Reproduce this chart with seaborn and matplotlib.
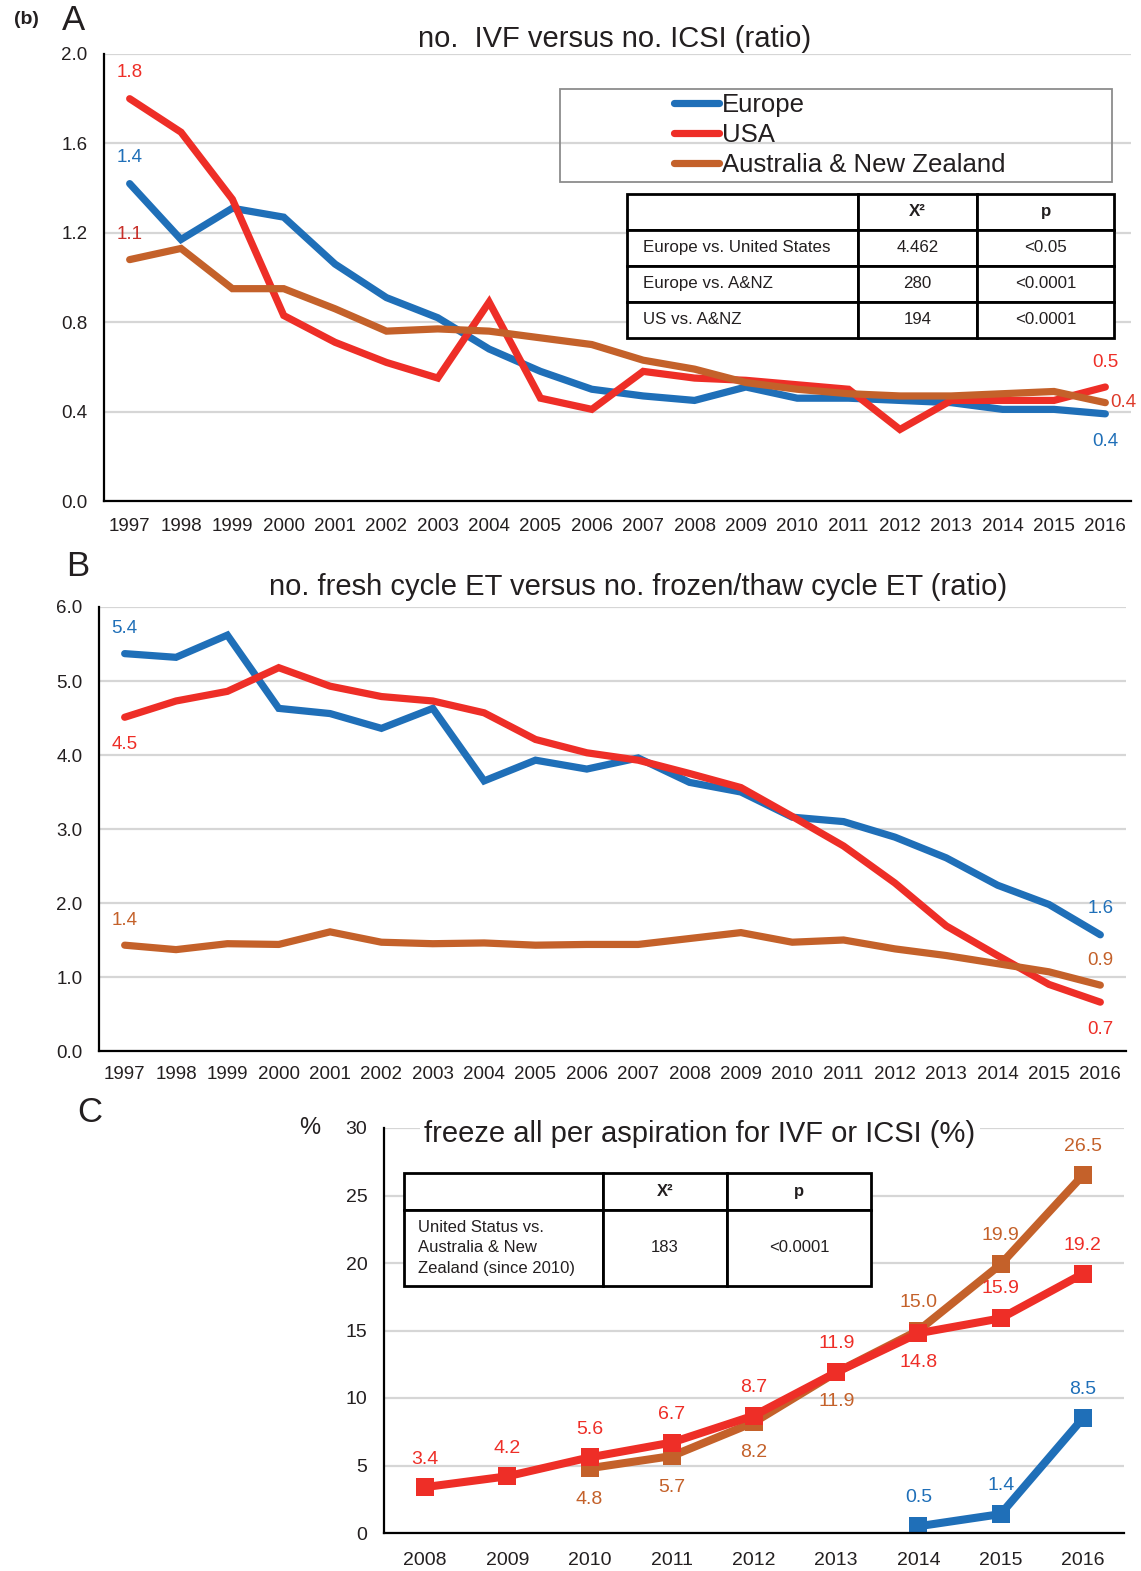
import numpy as np
import pandas as pd
import matplotlib
matplotlib.use("Agg")
import matplotlib.pyplot as plt
from matplotlib.patches import Rectangle
import seaborn as sns

# ── Data ────────────────────────────────────────────────────────────────
years_ab = list(range(1997, 2017))

# A: no. IVF / no. ICSI
europe_icsi = [1.42, 1.17, 1.31, 1.27, 1.06, 0.91, 0.82, 0.68, 0.58, 0.50,
               0.47, 0.45, 0.51, 0.46, 0.46, 0.45, 0.44, 0.41, 0.41, 0.39]
usa_icsi = [1.80, 1.65, 1.35, 0.83, 0.71, 0.62, 0.55, 0.89, 0.46, 0.41,
            0.58, 0.55, 0.54, 0.52, 0.50, 0.32, 0.45, 0.45, 0.45, 0.51]
anz_icsi = [1.08, 1.13, 0.95, 0.95, 0.86, 0.76, 0.77, 0.76, 0.73, 0.70,
            0.63, 0.59, 0.53, 0.50, 0.48, 0.47, 0.47, 0.48, 0.49, 0.44]

# B: fresh cycle ET / frozen-thaw cycle ET
europe_et = [5.37, 5.32, 5.62, 4.63, 4.56, 4.36, 4.63, 3.65, 3.93, 3.81,
             3.96, 3.63, 3.50, 3.16, 3.10, 2.89, 2.61, 2.24, 1.98, 1.57]
usa_et = [4.51, 4.73, 4.86, 5.18, 4.93, 4.79, 4.73, 4.57, 4.21, 4.03,
          3.93, 3.75, 3.56, 3.17, 2.77, 2.27, 1.69, 1.29, 0.90, 0.66]
anz_et = [1.43, 1.37, 1.45, 1.44, 1.61, 1.47, 1.45, 1.46, 1.43, 1.44,
          1.44, 1.52, 1.60, 1.47, 1.50, 1.38, 1.29, 1.18, 1.07, 0.89]

# C: freeze all per aspiration (%)
years_usa_c = [2008, 2009, 2010, 2011, 2012, 2013, 2014, 2015, 2016]
usa_freeze = [3.4, 4.2, 5.6, 6.7, 8.7, 11.9, 14.8, 15.9, 19.2]
years_anz_c = [2010, 2011, 2012, 2013, 2014, 2015, 2016]
anz_freeze = [4.8, 5.7, 8.2, 11.9, 15.0, 19.9, 26.5]
years_eur_c = [2014, 2015, 2016]
europe_freeze = [0.5, 1.4, 8.5]

regions = ["Europe", "USA", "Australia & New Zealand"]

table_a_rows = ["Europe vs. United States", "Europe vs. A&NZ", "US vs. A&NZ"]
table_a_chi = ["4.462", "280", "194"]
table_a_p = ["<0.05", "<0.0001", "<0.0001"]

table_c_row = "United Status vs.\nAustralia & New\nZealand (since 2010)"
table_c_chi = "183"
table_c_p = "<0.0001"

# ── Style ───────────────────────────────────────────────────────────────
BLUE = "#1f6fb8"
RED = "#ee2e27"
BROWN = "#c4612a"
palette = {"Europe": BLUE, "USA": RED, "Australia & New Zealand": BROWN}
GRID = "#d6d6d6"

sns.set_style("white")
plt.rcParams["font.family"] = ["Liberation Sans", "DejaVu Sans"]
plt.rcParams["text.color"] = "#231f20"
plt.rcParams["xtick.color"] = "#231f20"
plt.rcParams["ytick.color"] = "#231f20"

W, H = 1141, 1571
fig = plt.figure(figsize=(W / 100, H / 100), dpi=100)


def px_axes(l, t, r, b):
    return fig.add_axes([l / W, 1 - b / H, (r - l) / W, (b - t) / H])


def style_axes(ax, xs, ymax, ystep, yfmt, fs, xpad=12):
    ax.set_xlim(xs[0] - 0.5, xs[-1] + 0.5)
    ax.set_ylim(0, ymax)
    ax.set_xticks(xs)
    ax.set_xticklabels([str(x) for x in xs], fontsize=fs)
    ax.set_xticks(np.arange(xs[0] - 0.5, xs[-1] + 1, 1), minor=True)
    ax.tick_params(axis="x", which="major", length=0, pad=xpad)
    ax.tick_params(axis="x", which="minor", length=6, width=1.3, color="black")
    yt = np.arange(0, ymax + ystep / 2, ystep)
    ax.set_yticks(yt)
    ax.set_yticklabels([yfmt.format(v) for v in yt], fontsize=fs)
    ax.tick_params(axis="y", length=5, width=1.3, color="black", pad=7)
    for s in ["top", "right"]:
        ax.spines[s].set_visible(False)
    for s in ["left", "bottom"]:
        ax.spines[s].set_color("black")
        ax.spines[s].set_linewidth(1.6)
    ax.yaxis.grid(True, color=GRID, lw=1.6)
    ax.set_axisbelow(True)
    ax.set_xlabel("")
    ax.set_ylabel("")


def long_df(years, series):
    frames = []
    for name, vals in series.items():
        frames.append(pd.DataFrame({"year": years, "value": vals, "region": name}))
    return pd.concat(frames, ignore_index=True)


def label(ax, x, y, txt, color, dx, dy, fs=13.5):
    ax.annotate(txt, (x, y), xytext=(dx, dy), textcoords="offset pixels",
                ha="center", va="center", color=color, fontsize=fs,
                annotation_clip=False)


def draw_table(ax, bbox, rows, col_w, row_h, fs):
    tb = ax.table(cellText=rows, bbox=bbox, cellLoc="center", zorder=5)
    tb.auto_set_font_size(False)
    tb.set_fontsize(fs)
    for (r, c), cell in tb.get_celld().items():
        cell.set_width(col_w[c])
        cell.set_height(row_h[r])
        cell.set_linewidth(2.0)
        cell.set_edgecolor("black")
        cell.set_facecolor("white")
        cell.get_text().set_linespacing(1.45)
        if r == 0:
            cell.get_text().set_fontweight("bold")
        if c == 0 and r > 0:
            cell._loc = "left"
            cell.PAD = 0.07
            cell.get_text().set_horizontalalignment("left")
    return tb


# ── Panel A ─────────────────────────────────────────────────────────────
axA = px_axes(104, 54, 1131, 501)
dfA = long_df(years_ab, {"Europe": europe_icsi, "USA": usa_icsi,
                         "Australia & New Zealand": anz_icsi})
sns.lineplot(data=dfA, x="year", y="value", hue="region", hue_order=regions,
             palette=palette, lw=5.2, legend=False, ax=axA,
             solid_capstyle="round", solid_joinstyle="miter")
style_axes(axA, years_ab, 2.0, 0.4, "{:.1f}", 13.5)

axA.text(0.497, 1.033, "no.  IVF versus no. ICSI (ratio)", transform=axA.transAxes,
         ha="center", va="center", fontsize=21)

# legend box + entries
axA.add_patch(Rectangle((0.444, 0.714), 0.5375, 0.208, transform=axA.transAxes,
                        fill=False, ec="#8c8c8c", lw=1.3, zorder=4))
handles = [plt.Line2D([], [], color=palette[r], lw=5.2, solid_capstyle="round")
           for r in regions]
axA.legend(handles, regions, loc="upper left", bbox_to_anchor=(0.555, 0.912),
           frameon=False, fontsize=18.5, handlelength=1.75, handletextpad=0.12,
           labelspacing=0.22, borderpad=0, borderaxespad=0)

draw_table(axA, [0.5093, 0.365, 0.4744, 0.322],
           [["", "X²", "p"]] + [[a, b, c] for a, b, c in zip(table_a_rows, table_a_chi, table_a_p)],
           [230, 119, 137], [36, 36, 36, 36], 12.2)

label(axA, 1997, usa_icsi[0], f"{usa_icsi[0]:.1f}", RED, 0, 26)
label(axA, 1997, europe_icsi[0], f"{europe_icsi[0]:.1f}", BLUE, 0, 26)
label(axA, 1997, anz_icsi[0], f"{anz_icsi[0]:.1f}", "#c8302a", 0, 25)
label(axA, 2016, usa_icsi[-1], f"{usa_icsi[-1]:.1f}", RED, 0, 25)
label(axA, 2016, anz_icsi[-1], f"{anz_icsi[-1]:.1f}", "#de3a2a", 18, 0)
label(axA, 2016, europe_icsi[-1], f"{europe_icsi[-1]:.1f}", BLUE, 0, -28)

fig.text(26 / W, 1 - 20 / H, "(b)", fontsize=14, fontweight="bold",
         ha="center", va="center")
fig.text(73 / W, 1 - 20 / H, "A", fontsize=25, ha="center", va="center")

# ── Panel B ─────────────────────────────────────────────────────────────
axB = px_axes(99, 607, 1126, 1051)
dfB = long_df(years_ab, {"Europe": europe_et, "USA": usa_et,
                         "Australia & New Zealand": anz_et})
sns.lineplot(data=dfB, x="year", y="value", hue="region", hue_order=regions,
             palette=palette, lw=5.2, legend=False, ax=axB,
             solid_capstyle="round", solid_joinstyle="miter")
style_axes(axB, years_ab, 6.0, 1.0, "{:.1f}", 13.5, xpad=11)

axB.text(0.525, 1.046, "no. fresh cycle ET versus no. frozen/thaw cycle ET (ratio)",
         transform=axB.transAxes, ha="center", va="center", fontsize=21)

label(axB, 1997, europe_et[0], f"{europe_et[0]:.1f}", BLUE, 0, 25)
label(axB, 1997, usa_et[0], f"{usa_et[0]:.1f}", RED, 0, -27)
label(axB, 1997, anz_et[0], f"{anz_et[0]:.1f}", BROWN, 0, 25)
label(axB, 2016, europe_et[-1], f"{europe_et[-1]:.1f}", BLUE, 0, 26)
label(axB, 2016, anz_et[-1], f"{anz_et[-1]:.1f}", BROWN, 0, 25)
label(axB, 2016, usa_et[-1], f"{usa_et[-1]:.1f}", RED, 0, -27)

fig.text(78 / W, 1 - 567 / H, "B", fontsize=25, ha="center", va="center")

# ── Panel C ─────────────────────────────────────────────────────────────
axC = px_axes(384, 1128, 1124, 1533)
dfC = pd.concat([
    pd.DataFrame({"year": years_eur_c, "value": europe_freeze, "region": "Europe"}),
    pd.DataFrame({"year": years_anz_c, "value": anz_freeze, "region": "Australia & New Zealand"}),
    pd.DataFrame({"year": years_usa_c, "value": usa_freeze, "region": "USA"}),
], ignore_index=True)
sns.lineplot(data=dfC, x="year", y="value", hue="region",
             hue_order=["Europe", "Australia & New Zealand", "USA"],
             palette=palette, lw=5.8, marker="s", markersize=12.5,
             markeredgewidth=0, legend=False, ax=axC)
style_axes(axC, list(range(2008, 2017)), 30, 5, "{:.0f}", 14, xpad=14)
axC.tick_params(axis="x", which="minor", length=8)

axC.text(0.427, 0.985, "freeze all per aspiration for IVF or ICSI (%)",
         transform=axC.transAxes, ha="center", va="center", fontsize=21,
         bbox=dict(fc="white", ec="none", pad=3), zorder=6)
fig.text(310 / W, 1 - 1128 / H, "%", fontsize=17, ha="center", va="center")

draw_table(axC, [0.027, 0.61, 0.631, 0.279],
           [["", "X²", "p"], [table_c_row, table_c_chi, table_c_p]],
           [199, 124, 144], [37, 76], 12)

usa_off = [28, 28, 28, 28, 28, 29, -29, 30, 28]
for x, v, d in zip(years_usa_c, usa_freeze, usa_off):
    label(axC, x, v, f"{v:.1f}", RED, 0, d, fs=14)
anz_off = [-31, -31, -30, -29, 28, 29, 29]
for x, v, d in zip(years_anz_c, anz_freeze, anz_off):
    label(axC, x, v, f"{v:.1f}", BROWN, 0, d, fs=14)
for x, v in zip(years_eur_c, europe_freeze):
    label(axC, x, v, f"{v:.1f}", BLUE, 0, 29, fs=14)

fig.text(90 / W, 1 - 1112 / H, "C", fontsize=25, ha="center", va="center")

fig.savefig("out.png", dpi=100)
